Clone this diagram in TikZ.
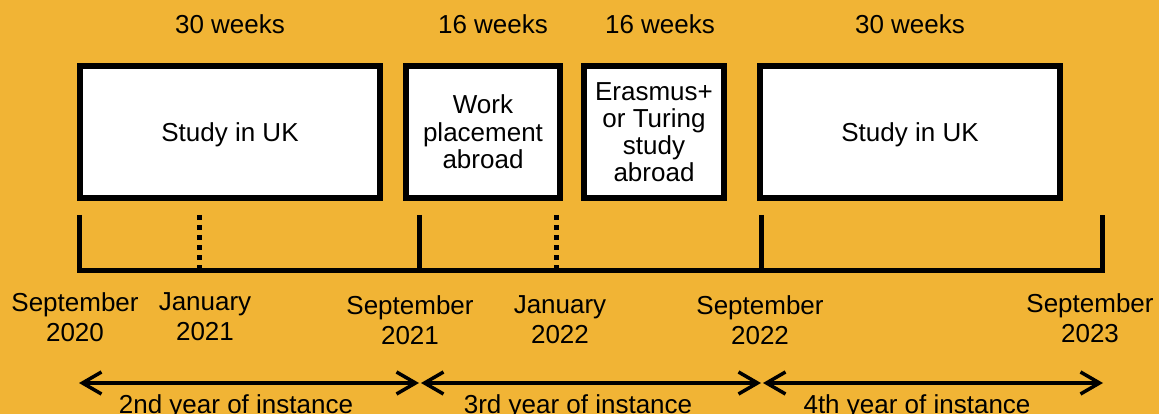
\documentclass[tikz,border=0pt]{standalone}
\usepackage{fontspec}
\setmainfont{Liberation Sans}
\usetikzlibrary{arrows.meta}
\definecolor{bg}{RGB}{241,180,53}
\begin{document}
\begin{tikzpicture}[x=1pt,y=-1pt,
  every node/.style={font=\fontsize{26}{27.5}\selectfont, inner sep=0pt, outer sep=0pt},
  period/.style={draw=black, line width=6pt, fill=white, minimum height=132pt, align=center},
  weeks/.style={anchor=base},
  datelabel/.style={align=center, font=\fontsize{26}{30}\selectfont},
  yearlabel/.style={anchor=base},
  axis/.style={line width=5pt, line join=miter, line cap=butt},
  dottick/.style={line width=5pt, dash pattern=on 5pt off 5pt},
  yeararrow/.style={line width=3.5pt, {Straight Barb[length=19pt,width=22pt]}-{Straight Barb[length=19pt,width=22pt]}}
]
\useasboundingbox[fill=bg] (0,0) rectangle (1159,414);

% week labels
\node[weeks] (w1) at (230,34) {30 weeks};
\node[weeks] (w2) at (493,34) {16 weeks};
\node[weeks] (w3) at (660,34) {16 weeks};
\node[weeks] (w4) at (910,34) {30 weeks};

% period boxes
\node[period, minimum width=300pt, text depth=0pt] (b1) at (230,132) {Study in UK};
\node[period, minimum width=154pt] (b2) at (483,132) {Work\\placement\\abroad};
\node[period, minimum width=140pt, font=\fontsize{26}{27}\selectfont] (b3) at (654,132) {Erasmus+\\or Turing\\study\\abroad};
\node[period, minimum width=300pt, text depth=0pt] (b4) at (910,132) {Study in UK};

% timeline
\coordinate (t0) at (79,270);
\coordinate (t1) at (419,270);
\coordinate (t2) at (761,270);
\coordinate (t3) at (1102,270);
\coordinate (u0) at (79,215);
\coordinate (u1) at (419,215);
\coordinate (u2) at (761,215);
\coordinate (u3) at (1102,215);
\coordinate (j1) at (199,270);
\coordinate (j2) at (556,270);
\coordinate (k1) at (199,215);
\coordinate (k2) at (556,215);

\draw[axis] (u0) -- (t0) -- (t3) -- (u3);
\draw[axis] (u1) -- (t1);
\draw[axis] (u2) -- (t2);
\draw[dottick] (k1) -- (j1);
\draw[dottick] (k2) -- (j2);

% date labels
\node[datelabel] (d0) at (75,317) {September\\2020};
\node[datelabel] (d1) at (205,317) {January\\2021};
\node[datelabel] (d2) at (410,320) {September\\2021};
\node[datelabel] (d3) at (560,320) {January\\2022};
\node[datelabel] (d4) at (760,320) {September\\2022};
\node[datelabel] (d5) at (1090,318) {September\\2023};

% year arrows
\coordinate (a0) at (79,383);
\coordinate (a1l) at (419,383);
\coordinate (a1r) at (421,383);
\coordinate (a2l) at (761,383);
\coordinate (a2r) at (763,383);
\coordinate (a3) at (1103,383);
\draw[yeararrow] (a0) -- (a1l);
\draw[yeararrow] (a1r) -- (a2l);
\draw[yeararrow] (a2r) -- (a3);

\node[yearlabel] (y1) at (236,413.5) {2nd year of instance};
\node[yearlabel] (y2) at (578,413.5) {3rd year of instance};
\node[yearlabel] (y3) at (917,413.5) {4th year of instance};
\end{tikzpicture}
\end{document}
